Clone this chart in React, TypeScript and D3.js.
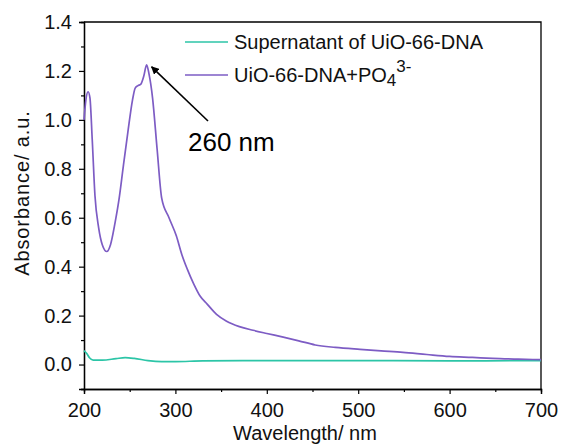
import React, { useEffect, useRef } from 'react'
import * as d3 from 'd3'

// wavelength (nm) / absorbance
const purpleWl = [200, 202, 204.5, 206.5, 209, 212, 216, 220, 225, 229, 234, 238.5, 243, 248, 253, 256, 259, 262, 265.5, 268.5, 271, 275, 280, 285, 293, 301, 307, 313, 320, 327, 335, 345, 356, 370, 385, 400, 418, 435, 453, 475, 502, 525, 549, 575, 600, 625, 647, 675, 700]
const purpleAbs = [1.0, 1.08, 1.115, 1.09, 0.92, 0.69, 0.56, 0.49, 0.462, 0.49, 0.58, 0.68, 0.81, 0.95, 1.08, 1.13, 1.14, 1.145, 1.18, 1.225, 1.19, 1.09, 0.88, 0.68, 0.6, 0.526, 0.45, 0.39, 0.33, 0.28, 0.246, 0.205, 0.177, 0.155, 0.14, 0.127, 0.112, 0.097, 0.08, 0.07, 0.062, 0.056, 0.05, 0.041, 0.033, 0.029, 0.025, 0.022, 0.02]

const tealWl = [200, 203, 206, 210, 220, 235, 245, 255, 270, 285, 300, 330, 400, 500, 600, 700]
const tealAbs = [0.057, 0.045, 0.028, 0.018, 0.018, 0.024, 0.028, 0.025, 0.016, 0.012, 0.012, 0.015, 0.016, 0.016, 0.015, 0.016]

const xTicks = [200, 300, 400, 500, 600, 700]
const yTicks = [0.0, 0.2, 0.4, 0.6, 0.8, 1.0, 1.2, 1.4]

const TEAL = '#2cc5a7'
const PURPLE = '#7d5cc4'
const FONT = 'Liberation Sans, Arial, sans-serif'

const Chart = () => {
  const ref = useRef(null)

  useEffect(() => {
    const width = 561
    const height = 447
    const margin = { top: 22, right: 20, bottom: 58, left: 84 }
    const w = width - margin.left - margin.right
    const h = height - margin.top - margin.bottom

    const svg = d3.select(ref.current)
      .append('svg')
      .attr('width', width)
      .attr('height', height)
      .style('display', 'block')
      .style('font-family', FONT)

    const g = svg.append('g')
      .attr('transform', 'translate(' + margin.left + ',' + margin.top + ')')

    const x = d3.scaleLinear().domain([200, 700]).range([0, w])
    const y = d3.scaleLinear().domain([-0.1, 1.4]).range([h, 0])

    // minor ticks
    const xMinor = d3.axisBottom(x).tickValues([250, 350, 450, 550, 650]).tickSize(3).tickFormat(() => '')
    const yMinor = d3.axisLeft(y).tickValues([-0.1, 0.1, 0.3, 0.5, 0.7, 0.9, 1.1, 1.3]).tickSize(3).tickFormat(() => '')

    const xAxis = d3.axisBottom(x).tickValues(xTicks).tickSize(5).tickPadding(9).tickFormat(d3.format('d'))
    const yAxis = d3.axisLeft(y).tickValues(yTicks).tickSize(5).tickPadding(7).tickFormat(d3.format('.1f'))

    g.append('g').attr('transform', 'translate(0,' + h + ')').call(xMinor)
    g.append('g').call(yMinor)
    g.append('g').attr('class', 'axis').attr('transform', 'translate(0,' + h + ')').call(xAxis)
    g.append('g').attr('class', 'axis').call(yAxis)

    g.selectAll('.domain').attr('stroke', '#000').attr('stroke-width', 1.3)
    g.selectAll('.tick line').attr('stroke', '#000').attr('stroke-width', 1.2)
    g.selectAll('.axis .tick text')
      .attr('font-size', 20)
      .attr('font-family', FONT)
      .attr('fill', '#111')

    // frame top/right
    g.append('path')
      .attr('d', 'M0,0H' + w + 'V' + h)
      .attr('fill', 'none')
      .attr('stroke', '#000')
      .attr('stroke-width', 1.3)

    const line = d3.line()
      .x(d => x(d[0]))
      .y(d => y(d[1]))
      .curve(d3.curveMonotoneX)

    g.append('path')
      .datum(tealWl.map((v, i) => [v, tealAbs[i]]))
      .attr('d', line)
      .attr('fill', 'none')
      .attr('stroke', TEAL)
      .attr('stroke-width', 1.7)

    g.append('path')
      .datum(purpleWl.map((v, i) => [v, purpleAbs[i]]))
      .attr('d', line)
      .attr('fill', 'none')
      .attr('stroke', PURPLE)
      .attr('stroke-width', 1.7)

    // axis titles
    svg.append('text')
      .attr('x', 305)
      .attr('y', 440)
      .attr('text-anchor', 'middle')
      .attr('font-size', 20)
      .attr('fill', '#111')
      .text('Wavelength/ nm')

    svg.append('text')
      .attr('transform', 'translate(29,193) rotate(-90)')
      .attr('text-anchor', 'middle')
      .attr('font-size', 20)
      .attr('letter-spacing', 0.9)
      .attr('fill', '#111')
      .text('Absorbance/ a.u.')

    // legend
    const legend = svg.append('g').attr('font-size', 20).attr('fill', '#111')
    legend.append('line').attr('x1', 185).attr('x2', 228).attr('y1', 42).attr('y2', 42)
      .attr('stroke', TEAL).attr('stroke-width', 1.7)
    legend.append('text').attr('x', 234).attr('y', 49).text('Supernatant of UiO-66-DNA')
    legend.append('line').attr('x1', 185).attr('x2', 228).attr('y1', 75).attr('y2', 75)
      .attr('stroke', PURPLE).attr('stroke-width', 1.7)
    const t2 = legend.append('text').attr('x', 234).attr('y', 82)
    t2.append('tspan').text('UiO-66-DNA+PO')
    t2.append('tspan').attr('dy', 4).attr('font-size', 17).text('4')
    t2.append('tspan').attr('dy', -14).attr('font-size', 17).text('3-')

    // annotation arrow to the 260 nm peak
    svg.append('defs').append('marker')
      .attr('id', 'arrowhead')
      .attr('viewBox', '0 0 10 10')
      .attr('refX', 9)
      .attr('refY', 5)
      .attr('markerWidth', 5)
      .attr('markerHeight', 5)
      .attr('orient', 'auto')
      .append('path')
      .attr('d', 'M0,0L10,5L0,10z')
      .attr('fill', '#000')

    const peakX = margin.left + x(268.5) + 5
    const peakY = margin.top + y(1.225) + 2
    svg.append('line')
      .attr('x1', 208)
      .attr('y1', 121)
      .attr('x2', peakX)
      .attr('y2', peakY)
      .attr('stroke', '#000')
      .attr('stroke-width', 1.6)
      .attr('marker-end', 'url(#arrowhead)')

    svg.append('text')
      .attr('x', 188)
      .attr('y', 151)
      .attr('font-size', 26)
      .attr('fill', '#000')
      .text('260 nm')

    return () => {
      d3.select(ref.current).selectAll('svg').remove()
    }
  }, [])

  return <div ref={ref} style={{ position: 'absolute', left: 0, top: 0 }}></div>
}

export default function App() {
  return <Chart />
}
